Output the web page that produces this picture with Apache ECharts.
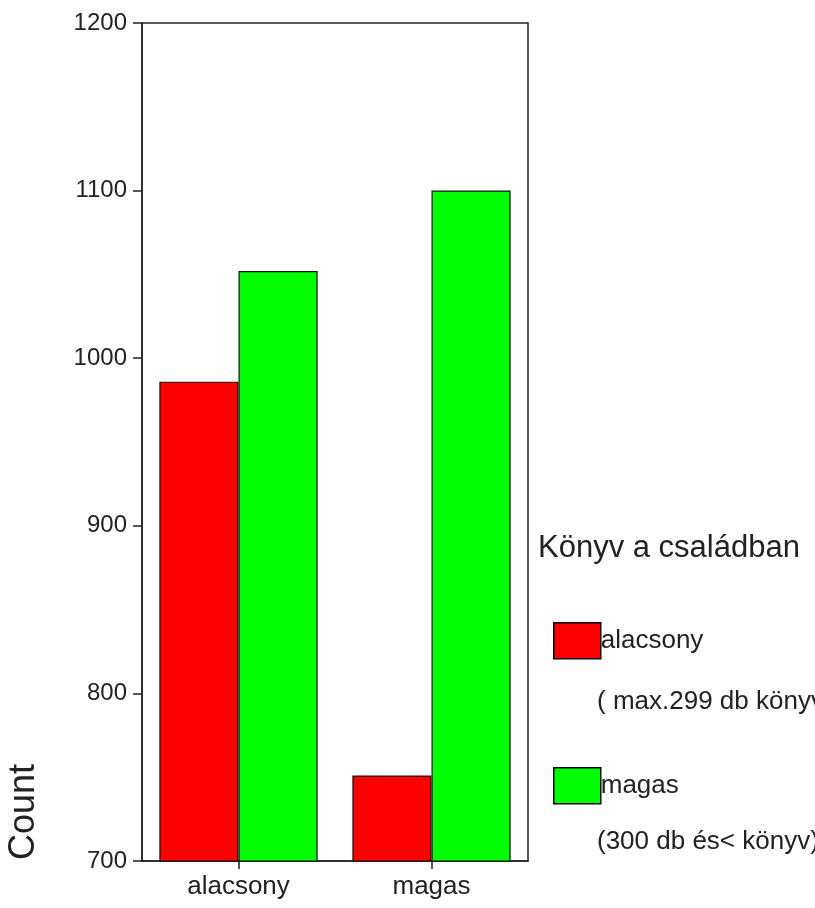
<!DOCTYPE html>
<html>
<head>
<meta charset="utf-8">
<script src="https://cdn.jsdelivr.net/npm/echarts@6/dist/echarts.min.js"></script>
<style>
  html, body { margin: 0; padding: 0; background: #fff; }
  #e1 { width: 815px; height: 908px; }
</style>
</head>
<body>
<div id="e1"></div>
<script>
  // kategóriák (x tengely)
  var categories = ['alacsony', 'magas'];
  // Könyv a családban - alacsony / magas
  var lowValues = [986, 751];
  var highValues = [1052, 1100];
  var seriesNames = ['alacsony', 'magas'];
  var legendNotes = ['( max.299 db könyv)', '(300 db és< könyv)'];
  var colors = ['#ff0000', '#00ff00'];

  var myChart = echarts.init(document.getElementById('e1'));
  var font = '"Liberation Sans", Arial, sans-serif';

  var legendText = { fontSize: 26, fontFamily: font, color: '#222', padding: [0, 0, 0, -5] };

  var option = {
    backgroundColor: '#fff',
    animation: false,
    textStyle: { fontFamily: font },
    grid: {
      left: 142, top: 23, right: 287, bottom: 47,
      show: true, borderColor: '#222', borderWidth: 1.5
    },
    legend: [
      {
        data: [seriesNames[0]],
        left: 548, top: 617,
        itemWidth: 47, itemHeight: 36,
        icon: 'rect',
        itemStyle: { borderColor: '#000', borderWidth: 1.5 },
        textStyle: legendText
      },
      {
        data: [seriesNames[1]],
        left: 548, top: 762,
        itemWidth: 47, itemHeight: 36,
        icon: 'rect',
        itemStyle: { borderColor: '#000', borderWidth: 1.5 },
        textStyle: legendText
      }
    ],
    graphic: [
      {
        type: 'text', x: 538, y: 548,
        style: { text: 'Könyv a családban', font: '31px ' + font, fill: '#222', verticalAlign: 'middle' }
      },
      {
        type: 'text', x: 597, y: 702,
        style: { text: legendNotes[0], font: '26px ' + font, fill: '#222', verticalAlign: 'middle' }
      },
      {
        type: 'text', x: 597, y: 842,
        style: { text: legendNotes[1], font: '26px ' + font, fill: '#222', verticalAlign: 'middle' }
      },
      {
        type: 'text', x: 24, y: 812, rotation: Math.PI / 2,
        style: { text: 'Count', font: '36px ' + font, fill: '#222', align: 'center', verticalAlign: 'middle' }
      }
    ],
    xAxis: {
      type: 'category',
      data: categories,
      axisLine: { show: true, lineStyle: { color: '#222', width: 1.5 } },
      axisTick: { show: true, alignWithLabel: true, length: 8, lineStyle: { color: '#222', width: 1.5 } },
      axisLabel: { fontSize: 26, color: '#222', margin: 13 }
    },
    yAxis: {
      type: 'value',
      min: 700, max: 1200, interval: 100,
      axisLine: { show: true, lineStyle: { color: '#222', width: 1.5 } },
      axisTick: { show: true, length: 9, lineStyle: { color: '#222', width: 1.5 } },
      axisLabel: {
        fontSize: 24, color: '#222', margin: 15,
        formatter: function (v) { return String(v); }
      },
      splitLine: { show: false }
    },
    series: [
      {
        name: seriesNames[0],
        type: 'bar',
        data: lowValues,
        barGap: '0%',
        barCategoryGap: '18%',
        itemStyle: { color: colors[0], borderColor: '#111', borderWidth: 1.2 }
      },
      {
        name: seriesNames[1],
        type: 'bar',
        data: highValues,
        barGap: '0%',
        barCategoryGap: '18%',
        itemStyle: { color: colors[1], borderColor: '#111', borderWidth: 1.2 }
      }
    ]
  };
  myChart.setOption(option);
</script>
</body>
</html>
